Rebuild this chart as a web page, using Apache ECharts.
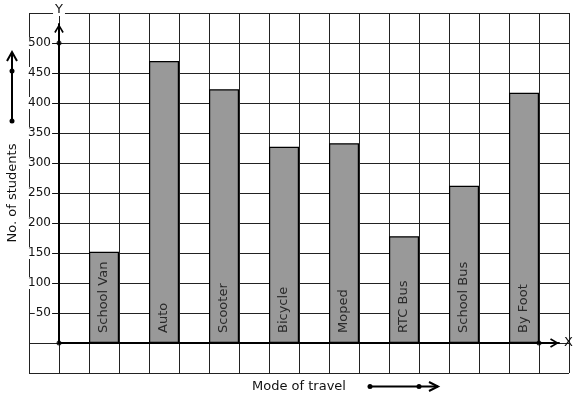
<!DOCTYPE html>
<html>
<head>
<meta charset="utf-8">
<script src="https://cdn.jsdelivr.net/npm/echarts@6/dist/echarts.min.js"></script>
<style>html,body{margin:0;padding:0;background:#fff;}#c{width:577px;height:399px;}</style>
</head>
<body>
<div id="c"></div>
<script>
const categories = ['School Van', 'Auto', 'Scooter', 'Bicycle', 'Moped', 'RTC Bus', 'School Bus', 'By Foot'];
const students = [152, 470, 423, 327, 333, 178, 262, 417];
const yTicks = [50, 100, 150, 200, 250, 300, 350, 400, 450, 500];
const xTitle = 'Mode of travel';
const yTitle = 'No. of students';

const FONT = 'DejaVu Sans';
const chevron = 'path://M5,0 L10,8.4 L8.5,9.4 L5,3.2 L1.5,9.4 L0,8.4 Z';

const chart = echarts.init(document.getElementById('c'), null, {renderer: 'canvas'});
chart.setOption({
  animation: false,
  backgroundColor: '#fff',
  textStyle: {fontFamily: FONT},
  grid: [
    {left: 29, top: 13, width: 540, height: 360, outerBoundsMode: 'none', containLabel: false},
    {left: 74, top: 43, width: 480, height: 300, outerBoundsMode: 'none', containLabel: false},
    {left: 59, top: 24, width: 500, height: 319, outerBoundsMode: 'none', containLabel: false}
  ],
  xAxis: [
    {gridIndex: 0, type: 'value', min: -1, max: 17, interval: 1,
     axisLine: {show: false}, axisTick: {show: false}, axisLabel: {show: false},
     splitLine: {show: true, lineStyle: {color: '#222', width: 1}},
     name: xTitle, nameLocation: 'middle', nameGap: 7,
     nameTextStyle: {fontFamily: FONT, fontSize: 13, color: '#111'}},
    {gridIndex: 1, type: 'category', data: categories, show: false},
    {gridIndex: 2, type: 'value', min: 0, max: 500 / 30,
     axisLine: {show: true, onZero: false, lineStyle: {color: '#000', width: 2},
       symbol: ['none', chevron], symbolSize: [10, 9], symbolOffset: [0, -4.5]},
     axisTick: {show: false}, axisLabel: {show: false}, splitLine: {show: false},
     name: 'X', nameLocation: 'end', nameGap: 5,
     nameTextStyle: {fontFamily: FONT, fontSize: 13, color: '#111', verticalAlign: 'middle'}}
  ],
  yAxis: [
    {gridIndex: 0, type: 'value', min: -50, max: 550, interval: 50,
     axisLine: {show: false}, axisTick: {show: false}, axisLabel: {show: false},
     splitLine: {show: true, lineStyle: {color: '#222', width: 1}},
     name: yTitle, nameLocation: 'middle', nameGap: 10,
     nameTextStyle: {fontFamily: FONT, fontSize: 13, color: '#111'}},
    {gridIndex: 1, type: 'value', min: 0, max: 500, show: false},
    {gridIndex: 2, type: 'value', min: 0, max: 319 / 0.6, z: 5,
     axisLine: {show: true, onZero: false, lineStyle: {color: '#000', width: 2},
       symbol: ['none', chevron], symbolSize: [10, 9], symbolOffset: [0, -4.5]},
     axisTick: {show: true, customValues: yTicks, length: 6, lineStyle: {color: '#111', width: 1}},
     axisLabel: {show: true, customValues: yTicks, margin: 7, fontFamily: FONT, fontSize: 12,
       color: '#111', backgroundColor: '#fff', padding: [0, 1, 0, 1]},
     splitLine: {show: false},
     name: 'Y', nameLocation: 'end', nameGap: 8,
     nameTextStyle: {fontFamily: FONT, fontSize: 13, color: '#111', backgroundColor: '#fff', padding: [0, 2, 0, 2]}}
  ],
  series: [
    {type: 'bar', xAxisIndex: 1, yAxisIndex: 1, data: students, barWidth: 30,
     itemStyle: {color: '#999999', borderColor: '#000', borderWidth: 1.2},
     label: {show: true, position: 'insideBottom', rotate: 90, align: 'left', verticalAlign: 'middle',
       distance: 10, fontFamily: FONT, fontSize: 13, color: '#2a2a2a',
       formatter: p => categories[p.dataIndex]}},
    {type: 'scatter', xAxisIndex: 2, yAxisIndex: 2, z: 6, symbolSize: 5,
     itemStyle: {color: '#000'},
     data: [[0, 0], [0, yTicks[yTicks.length - 1]], [categories.length * 2, 0]]}
  ],
  graphic: [
    {type: 'line', shape: {x1: 12, y1: 121, x2: 12, y2: 52}, style: {stroke: '#000', lineWidth: 2}},
    {type: 'polyline', shape: {points: [[7, 61], [12, 52], [17, 61]]}, style: {stroke: '#000', lineWidth: 2, fill: null}},
    {type: 'circle', shape: {cx: 12, cy: 121, r: 2.5}, style: {fill: '#000'}},
    {type: 'circle', shape: {cx: 12, cy: 71, r: 2.5}, style: {fill: '#000'}},
    {type: 'line', shape: {x1: 370, y1: 386.5, x2: 438, y2: 386.5}, style: {stroke: '#000', lineWidth: 2}},
    {type: 'polyline', shape: {points: [[429, 382], [438, 386.5], [429, 391]]}, style: {stroke: '#000', lineWidth: 2, fill: null}},
    {type: 'circle', shape: {cx: 370, cy: 386.5, r: 2.5}, style: {fill: '#000'}},
    {type: 'circle', shape: {cx: 419, cy: 386.5, r: 2.5}, style: {fill: '#000'}}
  ]
});
</script>
</body>
</html>
